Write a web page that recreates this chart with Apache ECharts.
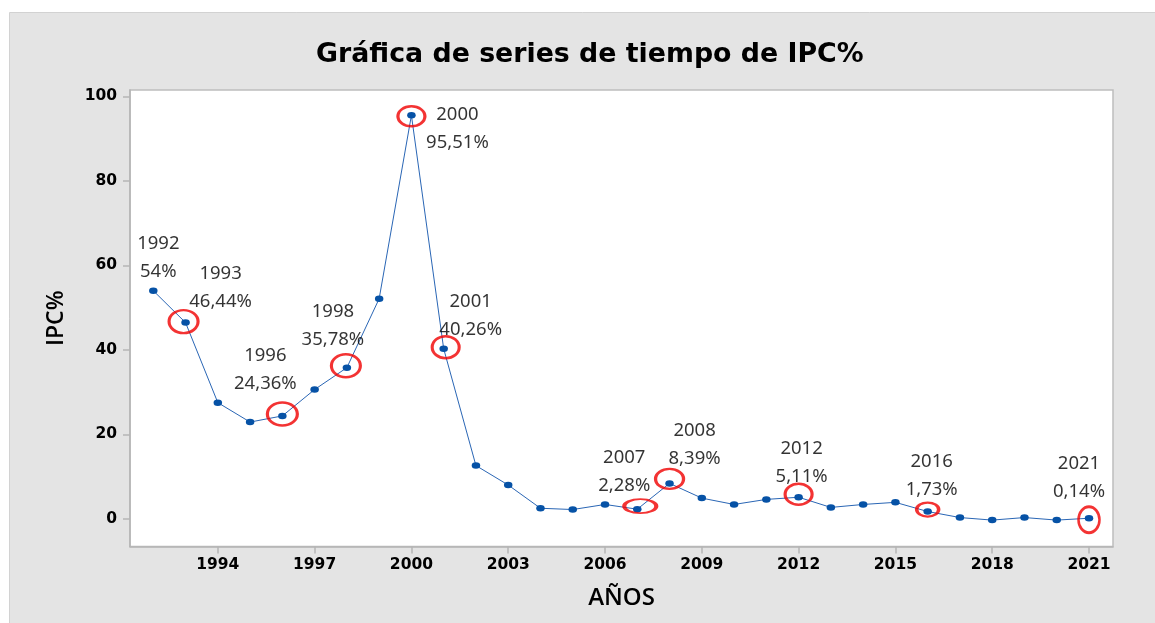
<!DOCTYPE html>
<html>
<head>
<meta charset="utf-8">
<script src="https://cdn.jsdelivr.net/npm/echarts@6/dist/echarts.min.js"></script>
<style>
html,body{margin:0;padding:0;background:#fff;}
#chart{width:1155px;height:623px;}
</style>
</head>
<body>
<div id="chart"></div>
<script>
// ---- data ----
const years = [1992,1993,1994,1995,1996,1997,1998,1999,2000,2001,2002,2003,2004,2005,2006,2007,2008,2009,2010,2011,2012,2013,2014,2015,2016,2017,2018,2019,2020,2021];
const ipc = [54,46.44,27.5,22.9,24.36,30.6,35.78,52.1,95.51,40.26,12.6,8.0,2.5,2.2,3.4,2.28,8.39,4.9,3.4,4.6,5.11,2.7,3.4,3.9,1.73,0.3,-0.3,0.3,-0.3,0.14];
const labeledYears = [1992,1993,1996,1998,2000,2001,2007,2008,2012,2016,2021];
const circledYears = [1993,1996,1998,2000,2001,2007,2008,2012,2016,2021];
const xTicks = [1994,1997,2000,2003,2006,2009,2012,2015,2018,2021];
const yTicks = [0,20,40,60,80,100];
const titleText = 'Gráfica de series de tiempo de IPC%';
const xName = 'AÑOS';
const yName = 'IPC%';

// ---- styles (label offsets and ring shapes, pixels) ----
const labelOffsets = {
  1992:[5,-33],1993:[35,-35],1996:[-17,-46],1998:[-14,-42],2000:[46,13],
  2001:[27,-33],2007:[-13,-37],2008:[25,-39],2012:[3,-35],2016:[4,-36],2021:[-10,-41]
};
const ringShapes = {
  1993:{size:[29,23],off:[-2,-1]},1996:{size:[30,23],off:[0,-2]},1998:{size:[29,23],off:[-1,-2]},
  2000:{size:[27,20],off:[0,1]},2001:{size:[27,22],off:[2,-1.5]},2007:{size:[32,14],off:[3,-3]},
  2008:{size:[28,20],off:[0,-4.5]},2012:{size:[27,21],off:[0,-3]},2016:{size:[22,14],off:[0,-2]},
  2021:{size:[21,26],off:[0,1.5]}
};

const valOf = y => ipc[years.indexOf(y)];
const fmt = v => String(v).replace('.', ',') + '%';

const chart = echarts.init(document.getElementById('chart'), null, {renderer:'canvas'});
const tickFont = {fontFamily:'DejaVu Sans', fontWeight:'bold', fontSize:15.5, color:'#000'};

chart.setOption({
  backgroundColor:'#ffffff',
  animation:false,
  graphic:[{
    type:'rect', z:-100, silent:true,
    shape:{x:9.5,y:12.5,width:1150,height:620},
    style:{fill:'#e4e4e4', stroke:'#d2d2d2', lineWidth:1}
  }],
  title:{
    text:titleText, left:311, top:37,
    textStyle:{fontFamily:'DejaVu Sans', fontWeight:'bold', fontSize:26.8, color:'#000'}
  },
  grid:{left:130, top:90, width:983, height:456.5, show:true, backgroundColor:'#fff', borderColor:'#bdbdbd', borderWidth:1.5, containLabel:false},
  xAxis:{
    type:'value', min:1991.278, max:2021.744,
    name:xName, nameLocation:'middle', nameGap:40,
    nameTextStyle:{fontFamily:'Open Sans', fontWeight:600, fontSize:24, color:'#000'},
    axisLine:{show:true, onZero:false, lineStyle:{color:'#b5b5b5', width:1.5}},
    axisTick:{show:true, length:7, customValues:xTicks, lineStyle:{color:'#b5b5b5', width:1.5}},
    axisLabel:Object.assign({customValues:xTicks, margin:10, formatter:v=>String(v)}, tickFont),
    splitLine:{show:false}
  },
  yAxis:{
    type:'value', min:-6.55, max:101.5,
    name:yName, nameLocation:'middle', nameGap:62, nameRotate:90,
    nameTextStyle:{fontFamily:'Open Sans', fontWeight:600, fontSize:23, color:'#000'},
    axisLine:{show:true, onZero:false, lineStyle:{color:'#b5b5b5', width:1.5}},
    axisTick:{show:true, length:7, customValues:yTicks, lineStyle:{color:'#b5b5b5', width:1.5}},
    axisLabel:Object.assign({customValues:yTicks, margin:13}, tickFont),
    splitLine:{show:false}
  },
  series:[
    {
      type:'line', data:years.map((y,i)=>[y, ipc[i]]),
      symbol:'circle', symbolSize:[8.5,6.5],
      lineStyle:{color:'#2a66b5', width:1},
      itemStyle:{color:'#0652a6'},
      z:3
    },
    {
      type:'scatter', z:4, silent:true,
      data:circledYears.map(y=>({
        value:[y, valOf(y)],
        symbolSize:ringShapes[y].size,
        symbolOffset:ringShapes[y].off
      })),
      symbol:'circle',
      itemStyle:{color:'rgba(0,0,0,0)', borderColor:'#f00000', borderWidth:2.8}
    },
    {
      type:'scatter', z:5, silent:true,
      data:labeledYears.map(y=>({
        value:[y, valOf(y)],
        label:{offset:labelOffsets[y]}
      })),
      symbol:'circle', symbolSize:1,
      itemStyle:{color:'rgba(0,0,0,0)'},
      label:{
        show:true, position:'inside',
        formatter:p=>p.value[0] + '\n' + fmt(p.value[1]),
        fontFamily:'Noto Sans', fontSize:18.5, lineHeight:28, color:'#000', align:'center'
      }
    }
  ]
});
</script>
</body>
</html>
